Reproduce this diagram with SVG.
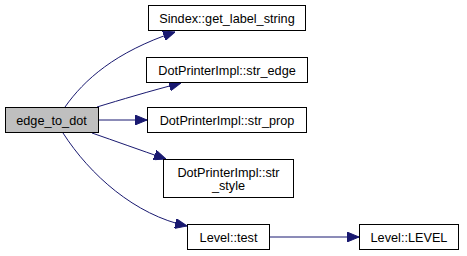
<svg xmlns="http://www.w3.org/2000/svg" width="467" height="256" viewBox="0 0 467 256">
  <defs>
    <marker id="arrow" viewBox="0 0 12 10" refX="12" refY="5" markerWidth="12" markerHeight="10" markerUnits="userSpaceOnUse" orient="auto">
      <polygon points="0,0 12,5 0,10" fill="#191970" stroke="#191970" stroke-width="1"/>
    </marker>
  </defs>
  <style>
    .node rect { fill: #ffffff; stroke: #000000; stroke-width: 1; }
    .node.root rect { fill: #bfbfbf; }
    .node text { font-family: "Liberation Sans", Arial, sans-serif; font-size: 12.7px; fill: #000000; text-anchor: middle; }
    .edges path { fill: none; stroke: #191970; stroke-width: 1; marker-end: url(#arrow); }
  </style>

  <g class="edges">
    <path d="M65,107 C84,80 115,52 175,32"/>
    <path d="M97,107 C120,100 150,91 181,83"/>
    <path d="M98,120 L147,120"/>
    <path d="M92,133 C115,141 140,150 166,159"/>
    <path d="M63,133 C90,175 135,215 187,226"/>
    <path d="M269,237 L359,237"/>
  </g>

  <g id="edge_to_dot" class="node root">
    <rect x="5.5" y="107.5" width="93" height="25"/>
    <text x="51.5" y="124.5">edge_to_dot</text>
  </g>

  <g id="get_label_string" class="node">
    <rect x="148.5" y="5.5" width="157" height="25"/>
    <text x="227" y="22.5">Sindex::get_label_string</text>
  </g>

  <g id="str_edge" class="node">
    <rect x="146.5" y="57.5" width="161" height="25"/>
    <text x="227" y="74.5">DotPrinterImpl::str_edge</text>
  </g>

  <g id="str_prop" class="node">
    <rect x="147.5" y="107.5" width="159" height="25"/>
    <text x="227" y="124.5">DotPrinterImpl::str_prop</text>
  </g>

  <g id="str_style" class="node">
    <rect x="163.5" y="159.5" width="130" height="38"/>
    <text x="228.5" y="176.5">DotPrinterImpl::str</text>
    <text x="228.5" y="190">_style</text>
  </g>

  <g id="level_test" class="node">
    <rect x="187.5" y="224.5" width="82" height="25"/>
    <text x="228.5" y="241.5">Level::test</text>
  </g>

  <g id="level_LEVEL" class="node">
    <rect x="359.5" y="224.5" width="99" height="25"/>
    <text x="409" y="241.5">Level::LEVEL</text>
  </g>
</svg>
